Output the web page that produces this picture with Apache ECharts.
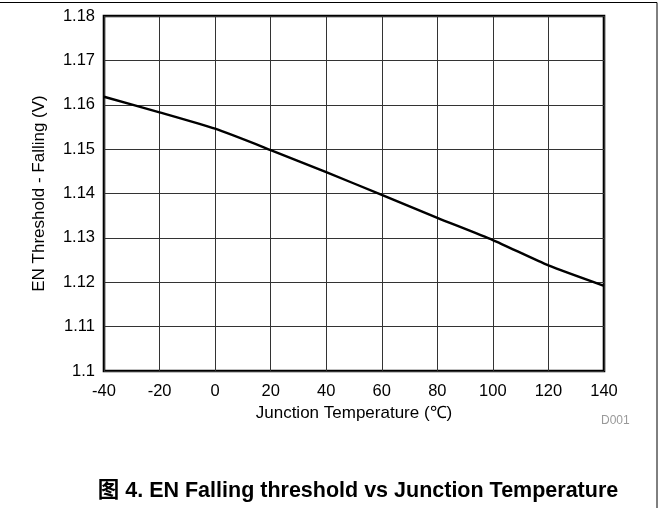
<!DOCTYPE html>
<html>
<head>
<meta charset="utf-8">
<script src="https://cdn.jsdelivr.net/npm/echarts@6/dist/echarts.min.js"></script>
<style>html,body{margin:0;padding:0;background:#fff}#c{width:669px;height:508px}</style>
</head>
<body>
<div id="c"></div>
<script>
var temps = [-40, -20, 0, 20, 40, 60, 80, 100, 120, 140];
var threshold = [1.1618, 1.1583, 1.1546, 1.1498, 1.1448, 1.1397, 1.1345, 1.1295, 1.1238, 1.1192];
var xTicks = [-40, -20, 0, 20, 40, 60, 80, 100, 120, 140];
var yTicks = [1.1, 1.11, 1.12, 1.13, 1.14, 1.15, 1.16, 1.17, 1.18];

var chart = echarts.init(document.getElementById('c'));
var font = 'Liberation Sans, Arial, sans-serif';
chart.setOption({
  animation: false,
  grid: {left: 104, right: 65, top: 16, bottom: 137, show: true, borderColor: '#000', borderWidth: 2.6, backgroundColor: 'transparent'},
  xAxis: {
    type: 'value', min: -40, max: 140, interval: 20,
    name: 'Junction Temperature (\u2103)', nameLocation: 'middle', nameGap: 33,
    nameTextStyle: {fontFamily: font, fontSize: 17, color: '#000'},
    axisLine: {show: false}, axisTick: {show: false},
    axisLabel: {fontFamily: font, fontSize: 16.5, color: '#000', margin: 12,
      formatter: function (v) { return xTicks.indexOf(v) >= 0 ? String(v) : ''; }},
    splitLine: {show: true, lineStyle: {color: '#333', width: 1}}
  },
  yAxis: {
    type: 'value', min: 1.1, max: 1.18, interval: 0.01,
    name: 'EN Threshold - Falling (V)', nameLocation: 'middle', nameGap: 56, nameRotate: 90,
    nameTextStyle: {fontFamily: font, fontSize: 17, color: '#000'},
    axisLine: {show: false}, axisTick: {show: false},
    axisLabel: {fontFamily: font, fontSize: 16.5, color: '#000', margin: 9,
      formatter: function (v) {
        var r = Math.round(v * 100) / 100;
        for (var i = 0; i < yTicks.length; i++) if (Math.abs(yTicks[i] - r) < 1e-9) return String(yTicks[i]);
        return '';
      }},
    splitLine: {show: true, lineStyle: {color: '#333', width: 1}}
  },
  series: [{
    type: 'line', data: temps.map(function (t, i) { return [t, threshold[i]]; }),
    showSymbol: false, smooth: 0.2, lineStyle: {color: '#000', width: 2.4}
  }],
  graphic: [
    {type: 'rect', shape: {x: -1, y: 2.5, width: 658, height: 520}, style: {fill: 'none', stroke: '#000', lineWidth: 1}, silent: true},
    {type: 'text', x: 601, y: 421, style: {text: 'D001', fontFamily: font, fontSize: 12, fill: '#999', textVerticalAlign: 'middle'}},
    {type: 'text', x: 358, y: 491, style: {text: '\u56fe 4. EN Falling threshold vs Junction Temperature', fontFamily: 'Liberation Sans, Noto Sans CJK SC, sans-serif', fontSize: 21.5, fontWeight: 'bold', fill: '#000', textAlign: 'center', textVerticalAlign: 'middle'}}
  ]
});
</script>
</body>
</html>
